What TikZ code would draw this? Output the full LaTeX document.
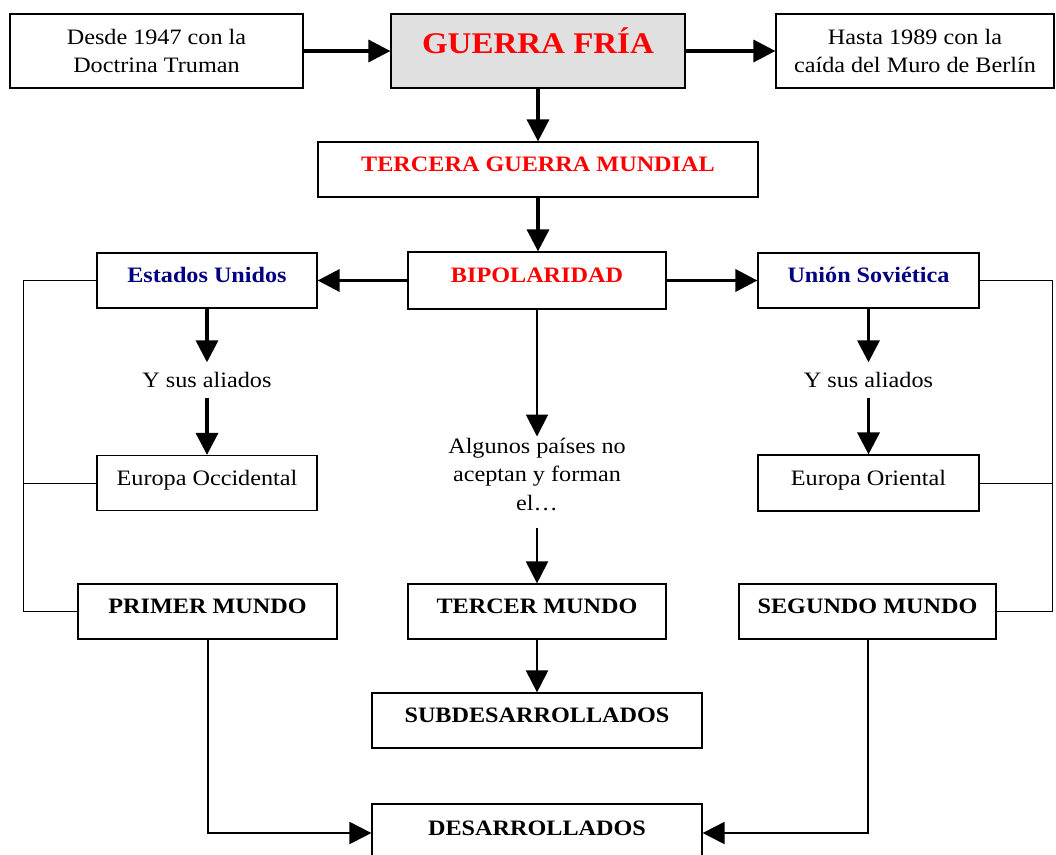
\documentclass[tikz,border=0pt]{standalone}
\usepackage{fontspec}
\setmainfont[FakeStretch=1.1]{Liberation Serif}
\usetikzlibrary{arrows.meta}
\definecolor{navyblue}{RGB}{0,0,128}

\begin{document}
\begin{tikzpicture}[x=1pt,y=-1pt,
    box/.style={draw,rectangle,inner sep=0pt,line width=1.2pt},
    txt/.style={font=\fontsize{22}{28.5}\selectfont,align=center},
    one/.style={text height=16pt,text depth=12pt},
    tit/.style={font=\fontsize{22}{28}\selectfont\bfseries,one},
    note/.style={txt,inner sep=0pt},
    bigarrow/.style={-{Triangle[length=22pt,width=22pt]},line width=3.5pt},
    midarrow/.style={-{Triangle[length=22pt,width=22pt]},line width=2pt},
    link/.style={line width=1pt}]

    \useasboundingbox (0,0) rectangle (1056,854);
    \clip (0,0) rectangle (1056,854);

    % top row
    \node[box,txt,minimum width=293pt,minimum height=74pt] (desde) at (156.5,51)
         {Desde 1947 con la\\Doctrina Truman};
    \node[box,fill=black!12,minimum width=294pt,minimum height=74pt,
          font=\fontsize{30}{34}\selectfont\bfseries,text=red,
          text height=22pt,text depth=18pt] (guerra) at (538,51) {GUERRA FRÍA};
    \node[box,txt,minimum width=278pt,minimum height=74pt] (hasta) at (915,51)
         {Hasta 1989 con la\\caída del Muro de Berlín};
    \draw[bigarrow] (desde) to (guerra);
    \draw[bigarrow] (guerra) to (hasta);

    \node[box,tit,text=red,minimum width=440pt,minimum height=55pt] (tercera)
         at (538,169.5) {TERCERA GUERRA MUNDIAL};
    \draw[bigarrow] (guerra) to (tercera);

    \node[box,tit,text=red,minimum width=258pt,minimum height=57pt] (bipolar)
         at (537,280.5) {BIPOLARIDAD};
    \draw[bigarrow] (tercera.south -| guerra) to (bipolar.north -| guerra);

    % the two blocs
    \node[box,tit,text=navyblue,minimum width=220pt,minimum height=55pt] (eeuu)
         at (207,280.5) {Estados Unidos};
    \node[box,tit,text=navyblue,minimum width=221pt,minimum height=55pt] (urss)
         at (868.5,280.5) {Unión Soviética};
    \draw[bigarrow] (bipolar) to (eeuu);
    \draw[bigarrow] (bipolar) to (urss);

    \node[note,minimum height=35pt] (aliadosL) at (207,380) {Y sus aliados};
    \node[note,minimum height=35pt] (aliadosR) at (868.5,380) {Y sus aliados};
    \draw[bigarrow] (eeuu) to (aliadosL);
    \draw[bigarrow] (urss) to (aliadosR);

    \node[box,txt,one,minimum width=220pt,minimum height=55pt] (eocc)
         at (207,483) {Europa Occidental};
    \node[box,txt,one,minimum width=221pt,minimum height=56pt] (eori)
         at (868.5,483) {Europa Oriental};
    \draw[bigarrow] (aliadosL) to (eocc);
    \draw[bigarrow] (aliadosR) to (eori);

    % middle column
    \node[note] (algunos) at (537,474)
         {Algunos países no\\aceptan y forman\\el\ldots};
    \draw[midarrow] (bipolar) to ([yshift=1pt]algunos.north);

    % worlds
    \node[box,tit,minimum width=259pt,minimum height=55pt] (primer)
         at (207.5,611.5) {PRIMER MUNDO};
    \node[box,tit,minimum width=258pt,minimum height=55pt] (tercer)
         at (537,611.5) {TERCER MUNDO};
    \node[box,tit,minimum width=257pt,minimum height=55pt] (segundo)
         at (867.5,611.5) {SEGUNDO MUNDO};
    \draw[midarrow] ([yshift=-17pt]algunos.south) to (tercer.north);

    \node[box,tit,minimum width=330pt,minimum height=55pt] (subdes)
         at (537,720.5) {SUBDESARROLLADOS};
    \node[box,tit,minimum width=330pt,minimum height=58pt] (desarr)
         at (537,833) {DESARROLLADOS};
    \draw[midarrow] (tercer) to (subdes);

    % side brackets
    \coordinate (lx) at (23,0);
    \coordinate (rx) at (1052,0);
    \draw[link] (eeuu.west) -- (eeuu.west -| lx) -- (primer.west -| lx) -- (primer.west);
    \draw[link] (eocc.west) -- (eocc.west -| lx);
    \draw[link] (urss.east) -- (urss.east -| rx) -- (segundo.east -| rx) -- (segundo.east);
    \draw[link] (eori.east) -- (eori.east -| rx);

    \draw[midarrow] (primer.south) |- (desarr.west);
    \draw[midarrow] (segundo.south) |- (desarr.east);

\end{tikzpicture}
\end{document}
